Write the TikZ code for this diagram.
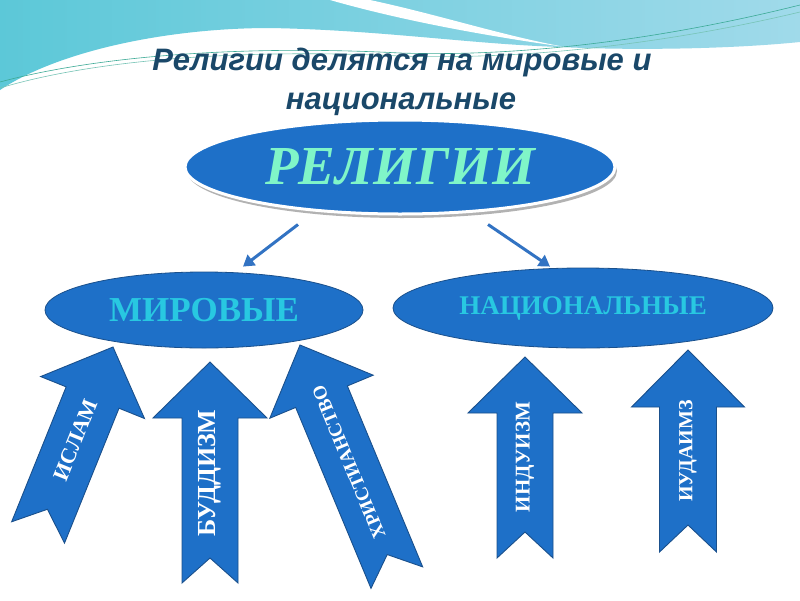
\documentclass[tikz,border=0pt]{standalone}
\usepackage{fontspec}
\setmainfont{Liberation Serif}
\newfontfamily\titlefont{Liberation Sans}
\usetikzlibrary{shapes.geometric,arrows.meta,shadows}
\definecolor{ellblue}{RGB}{30,112,200}
\definecolor{edgeblue}{RGB}{26,80,140}
\definecolor{reliText}{RGB}{128,245,200}
\definecolor{cyanText}{RGB}{40,200,225}
\definecolor{titleCol}{RGB}{26,72,105}
\definecolor{connCol}{RGB}{50,115,195}
\definecolor{bandL}{RGB}{92,200,216}
\definecolor{bandM}{RGB}{130,190,220}
\definecolor{bandR}{RGB}{160,218,234}
\definecolor{lineGreen}{RGB}{60,170,150}
\tikzset{
  titlestyle/.style={font=\titlefont\fontsize{31}{31}\selectfont\bfseries\itshape, text=titleCol, inner sep=0},
  topell/.style={ellipse, minimum width=430, minimum height=94, inner sep=0, fill=ellblue, draw=white, line width=3,
     drop shadow={shadow xshift=2pt, shadow yshift=-4pt, fill=black!60, opacity=.5},
     text=reliText, font=\fontsize{55}{55}\selectfont\bfseries\itshape},
  subell/.style={ellipse, inner sep=0, fill=ellblue, draw=edgeblue, line width=.8, text=cyanText},
  conn/.style={draw=connCol, line width=3, -{Triangle[length=11pt,width=13pt]}},
  blockarrow/.style={fill=ellblue, draw=edgeblue, line width=.9, line join=miter},
  arrowtext/.style={text=white, inner sep=0}
}
% block arrow in local frame: tip at origin, pointing up
% #1 head length, #2 head half width, #3 shaft half width, #4 total length, #5 notch depth
\newcommand\blockarr[5]{\path[blockarrow] (0,0) -- (#2,-#1) -- (#3,-#1) -- (#3,-#4) -- (0,{-#4+#5}) -- (-#3,-#4) -- (-#3,-#1) -- (-#2,-#1) -- cycle;}
\begin{document}
\begin{tikzpicture}[x=1pt,y=1pt]
\useasboundingbox (0,0) rectangle (800,-600);
\fill[white] (0,0) rectangle (800,-600);
% decorative top band
\path[left color=bandL, middle color=bandM, right color=bandR]
  (0,0) -- (800,0) -- (800,-42) .. controls (720,-50) and (620,-50) .. (560,-47)
  .. controls (470,-44) and (380,-30) .. (270,-28) .. controls (170,-28) and (60,-50) .. (0,-90) -- cycle;
\fill[white] (330,0) -- (370,0) .. controls (440,-15) and (500,-35) .. (565,-47)
  .. controls (480,-35) and (400,-20) .. (330,0) -- cycle;
\draw[lineGreen, line width=.6] (0,-82) .. controls (100,-55) and (250,-45) .. (400,-53) .. controls (550,-58) and (700,-30) .. (800,-5);
\draw[lineGreen!70!white, line width=.6] (0,-88) .. controls (100,-58) and (250,-49) .. (400,-56) .. controls (550,-61) and (700,-36) .. (800,-12);
% title
\node[titlestyle] (title1) at (402,-62) {Религии делятся на мировые и};
\node[titlestyle] (title2) at (401,-104) {национальные};
% ellipses
\node[topell] (reli) at (400,-167) {РЕЛИГИИ};
\node[subell, minimum width=318, minimum height=76, font=\fontsize{35}{35}\selectfont\bfseries] (mir) at (204,-310) {МИРОВЫЕ};
\node[subell, minimum width=380, minimum height=80, font=\fontsize{27}{27}\selectfont\bfseries] (natl) at (583,-308) {НАЦИОНАЛЬНЫЕ};
% connectors
\draw[conn] ([xshift=-102,yshift=-9]reli.south) -- ([xshift=39,yshift=5]mir.north);
\draw[conn] ([xshift=88,yshift=-9]reli.south) -- ([xshift=-33,yshift=1]natl.north);
% block arrows
\begin{scope}[shift={(113,-347)}, rotate=-22]
  \blockarr{54.5}{56}{28.5}{200}{25}
  \node[arrowtext, rotate=68, font=\fontsize{22}{22}\selectfont\bfseries] (islam) at (0,-100) {ИСЛАМ};
\end{scope}
\begin{scope}[shift={(210,-362)}]
  \blockarr{56}{57}{28}{221}{25}
  \node[arrowtext, rotate=90, font=\fontsize{26}{26}\selectfont\bfseries] (budd) at (0,-111) {БУДДИЗМ};
\end{scope}
\begin{scope}[shift={(300,-345)}, rotate=22.6]
  \blockarr{56}{56}{28}{252}{25}
  \node[arrowtext, rotate=112.6, font=\fontsize{19}{19}\selectfont\bfseries] (christ) at (0,-127) {ХРИСТИАНСТВО};
\end{scope}
\begin{scope}[shift={(525,-357)}]
  \blockarr{56}{57}{28}{201}{26}
  \node[arrowtext, rotate=90, font=\fontsize{21}{21}\selectfont\bfseries] (hindu) at (0,-100) {ИНДУИЗМ};
\end{scope}
\begin{scope}[shift={(688,-350)}]
  \blockarr{57}{56.5}{28.5}{202}{27}
  \node[arrowtext, rotate=90, font=\fontsize{20}{20}\selectfont\bfseries] (jud) at (0,-101) {ИУДАИМЗ};
\end{scope}
\end{tikzpicture}
\end{document}
